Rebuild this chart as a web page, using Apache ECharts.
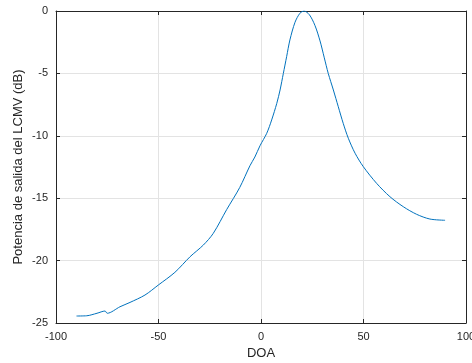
<!DOCTYPE html>
<html><head><meta charset="utf-8">
<script src="https://cdn.jsdelivr.net/npm/echarts@6/dist/echarts.min.js"></script>
<style>html,body{margin:0;padding:0;background:#fff}#c{width:472px;height:363px}</style>
</head><body><div id="c"></div>
<script>
const doa = [-90,-85,-80,-76.1,-75,-68.8,-63.9,-56.6,-50.1,-42,-34.6,-28.1,-23.3,-16.7,-10.4,-5.4,-3,-0.5,2.8,5.2,7.7,9.3,10.9,12.5,14.1,16.6,19,21,23.6,26.3,28.8,30.8,32.8,35.3,37.7,40.1,42.6,45.9,49.9,56.4,62.9,69.4,75.9,82.4,89.8];
const power = [-24.44,-24.42,-24.22,-24.04,-24.22,-23.7,-23.35,-22.76,-21.96,-20.94,-19.69,-18.75,-17.82,-15.9,-14.15,-12.4,-11.7,-10.8,-9.8,-8.73,-7.4,-6.33,-5.0,-3.66,-2.32,-0.9,-0.18,0,-0.3,-1.15,-2.4,-3.7,-5.0,-6.33,-7.67,-9.0,-10.2,-11.4,-12.47,-13.81,-14.88,-15.68,-16.29,-16.67,-16.77];
const xTicks = [-100,-50,0,50,100];
const yTicks = [-25,-20,-15,-10,-5,0];
const ff = '"Liberation Sans", Arial, sans-serif';
const chart = echarts.init(document.getElementById('c'));
const axCol = '#262626';
chart.setOption({
  animation:false,
  grid:{left:56,right:6,top:11,bottom:40,show:false,outerBoundsMode:'none',containLabel:false},
  xAxis:[{type:'value',min:xTicks[0],max:xTicks[xTicks.length-1],interval:50,
    name:'DOA',nameLocation:'middle',nameGap:23,nameTextStyle:{fontFamily:ff,fontSize:13,color:axCol},
    axisLine:{onZero:false,lineStyle:{color:axCol,width:1}},
    axisTick:{inside:true,length:4,lineStyle:{color:axCol}},
    axisLabel:{fontFamily:ff,fontSize:11,color:axCol,margin:8,hideOverlap:false},
    splitLine:{show:true,lineStyle:{color:'#e3e3e3',width:1}}},
   {type:'value',position:'top',min:-100,max:100,interval:50,
    axisLine:{onZero:false,lineStyle:{color:axCol,width:1}},
    axisTick:{inside:true,length:4,lineStyle:{color:axCol}},
    axisLabel:{show:false},splitLine:{show:false}}],
  yAxis:[{type:'value',min:yTicks[0],max:yTicks[yTicks.length-1],interval:5,
    name:'Potencia de salida del LCMV (dB)',nameLocation:'middle',nameGap:31,nameMoveOverlap:false,nameTextStyle:{fontFamily:ff,fontSize:13,color:axCol},
    axisLine:{show:true,onZero:false,lineStyle:{color:axCol,width:1}},
    axisTick:{show:true,inside:true,length:4,lineStyle:{color:axCol}},
    axisLabel:{fontFamily:ff,fontSize:11,color:axCol,margin:8},
    splitLine:{show:true,lineStyle:{color:'#e3e3e3',width:1}}},
   {type:'value',position:'right',min:-25,max:0,interval:5,
    axisLine:{show:true,onZero:false,lineStyle:{color:axCol,width:1}},
    axisTick:{show:true,inside:true,length:4,lineStyle:{color:axCol}},
    axisLabel:{show:false},splitLine:{show:false}}],
  series:[{type:'line',data:doa.map((x,i)=>[x,power[i]]),smooth:0.3,showSymbol:false,
    lineStyle:{color:'#0072BD',width:1}}]
});
</script></body></html>
